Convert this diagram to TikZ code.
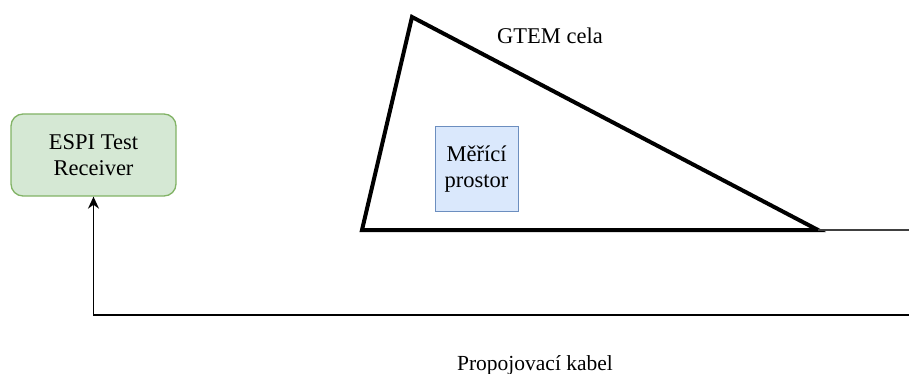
\documentclass[tikz,border=0pt]{standalone}
\usepackage{fontspec}
\setmainfont{Liberation Serif}
\usetikzlibrary{arrows.meta}
\definecolor{recfill}{HTML}{D5E8D4}
\definecolor{recline}{HTML}{82B366}
\definecolor{roomfill}{HTML}{DAE8FC}
\definecolor{roomline}{HTML}{6C8EBF}
\tikzset{
  lbl/.style={font=\fontsize{22.5}{26.5}\selectfont, align=center, inner sep=0pt},
  receiver/.style={lbl, draw=recline, fill=recfill, line width=1.3pt, rounded corners=12pt,
    minimum width=165pt, minimum height=82pt},
  room/.style={lbl, draw=roomline, fill=roomfill, line width=1pt,
    minimum width=83pt, minimum height=84pt},
  cell/.style={line width=4pt, line join=miter},
  cable/.style={line width=1.5pt},
}
\begin{document}
\begin{tikzpicture}[x=1pt,y=-1pt]
  \useasboundingbox (0,0) rectangle (909,374);
  % GTEM cell outline
  \coordinate (apex) at (412,17);
  \coordinate (left) at (362,230);
  \coordinate (tip) at (818,230);
  \coordinate (edge) at (909,230);
  \draw[cell] (apex) -- (left) -- (tip) -- cycle;
  \draw[line width=1.5pt, black!75] (tip) -- (edge);
  % nodes
  \node[receiver] (rec) at (93.5,155) {ESPI Test\\Receiver};
  \node[room] (room) at (476.5,169) {Měřící\\prostor};
  \node[lbl] (gtem) at (550,36) {GTEM cela};
  \node[lbl, font=\fontsize{21.5}{25}\selectfont] (kabel) at (535,365) {Propojovací kabel};
  % cable back to the receiver
  \coordinate (cend) at (909,315);
  \draw[cable, -{Stealth[length=12pt,width=11pt]}] (cend) -- (rec.south |- cend) -- (rec.south);
\end{tikzpicture}
\end{document}
